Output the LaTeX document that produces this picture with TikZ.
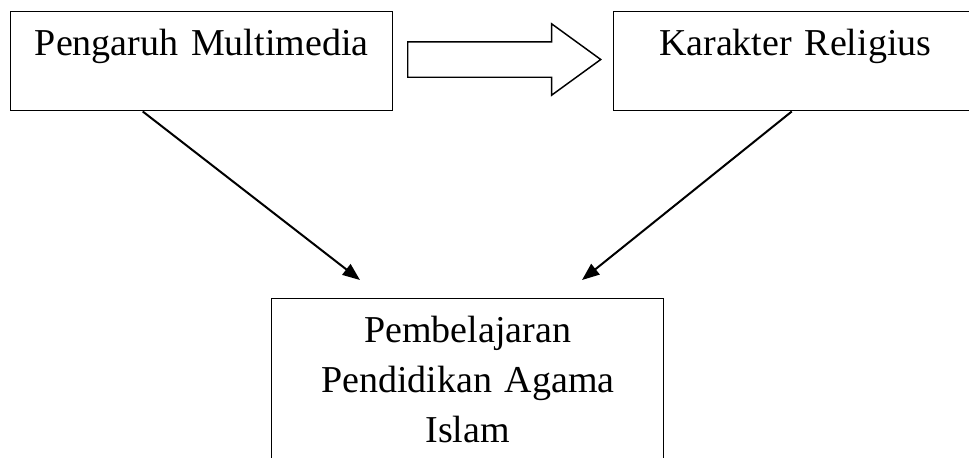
\documentclass[tikz,border=0pt]{standalone}
\usepackage{fontspec}
\setmainfont{Liberation Serif}
\usetikzlibrary{shapes.arrows,arrows.meta}
\tikzset{
  kotak/.style={draw, line width=1.1pt, inner sep=0pt, align=center,
    font=\fontsize{28.5}{37.5}\selectfont, text height=33pt},
  panah/.style={line width=1.5pt, -{Triangle[length=13pt,width=10pt]}}
}
\begin{document}
\begin{tikzpicture}[x=0.75pt,y=-0.75pt]
  \useasboundingbox (0,0) rectangle (969,457);
  \node[kotak, text width=286.5pt, text depth=41.25pt, anchor=north west]
    (multimedia) at (10,11) {Pengaruh Multimedia};
  \node[kotak, text width=272.25pt, text depth=41.25pt, anchor=north west]
    (religius) at (613,11) {Karakter Religius};
  \node[kotak, text width=294pt, text depth=96pt, anchor=north west]
    (pai) at (271,298) {Pembelajaran\\Pendidikan Agama\\Islam};
  \node[single arrow, draw, line width=1.1pt, inner sep=0pt, text height=25.5pt,
    text depth=0pt, minimum height=144.75pt, single arrow head extend=13.5pt,
    single arrow tip angle=72, single arrow head indent=0pt, anchor=tail]
    (blok) at (407,59.5) {};
  \coordinate (ujungkiri) at (360,280);
  \coordinate (ujungkanan) at (582,280);
  \draw[panah] ([xshift=-44.25pt]multimedia.south) -- (ujungkiri);
  \draw[panah] ([xshift=-2.6pt]religius.south) -- (ujungkanan);
\end{tikzpicture}
\end{document}
